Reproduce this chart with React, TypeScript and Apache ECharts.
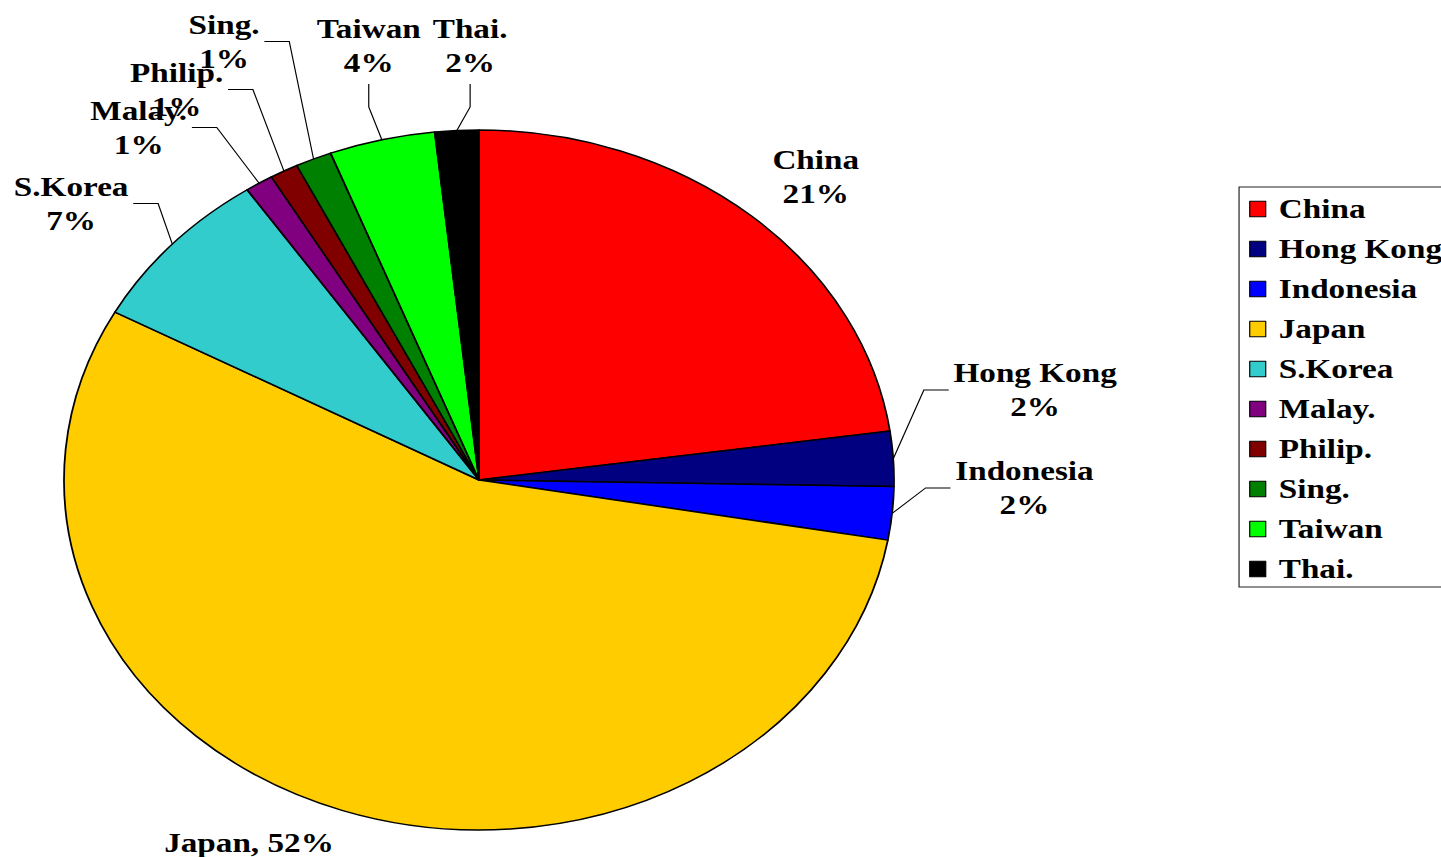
import React, { useEffect, useRef } from "react";
import * as echarts from "echarts";

// ---- data ----
const categories = ["China", "Hong Kong", "Indonesia", "Japan", "S.Korea", "Malay.", "Philip.", "Sing.", "Taiwan", "Thai."];
// share of total (%)
const shares = [21.4, 2.38, 2.3, 51.9, 7.14, 1.03, 1.04, 1.33, 3.87, 1.6];
const colors = ["#FF0000", "#000080", "#0000FF", "#FFCC00", "#33CCCC", "#800080", "#800000", "#008000", "#00FF00", "#000000"];
const singleLineLabels = ["Japan"];

// ---- layout (internal, unstretched px) ----
const SX = 1.1857; // horizontal stretch of the original picture
const CX = 404;
const CY = 480;
const R = 350;
const FONT = "'Liberation Serif', 'Times New Roman', serif";
// label centre and side where the leader line attaches
const labelAnchors: [number, number, string][] = [
  [688, 177, "none"],
  [873, 390, "left"],
  [864, 488, "left"],
  [210, 843, "none"],
  [60, 203.5, "right"],
  [117, 127.5, "right"],
  [149, 89.5, "right"],
  [189, 41.5, "right"],
  [311, 46, "bottom"],
  [396.5, 46, "bottom"],
];

function edgePoint(i: number): number[] {
  const total = shares.reduce((a, b) => a + b, 0);
  let before = 0;
  for (let k = 0; k < i; k++) before += shares[k];
  const mid = ((before + shares[i] / 2) / total) * Math.PI * 2;
  return [CX + R * Math.sin(mid), CY - R * Math.cos(mid)];
}

export default function App() {
  const ref = useRef<HTMLDivElement>(null);
  useEffect(() => {
    if (!ref.current) return;
    const chart = echarts.init(ref.current, null, { renderer: "svg" });
    chart.setOption({
      animation: false,
      backgroundColor: "#ffffff",
      legend: {
        orient: "vertical",
        left: 1045,
        top: 187,
        padding: [8, 30, 4, 8.5],
        borderColor: "#222",
        borderWidth: 1,
        itemWidth: 13.5,
        itemHeight: 15.5,
        itemGap: 12,
        icon: "rect",
        selectedMode: false,
        itemStyle: { borderColor: "#000", borderWidth: 1 },
        textStyle: {
          fontFamily: FONT,
          fontWeight: "bold",
          fontSize: 28,
          color: "#000",
          padding: [0, 0, 0, 6],
        },
        data: categories,
      },
      series: [
        {
          type: "pie",
          center: [CX, CY],
          radius: R,
          startAngle: 90,
          clockwise: true,
          avoidLabelOverlap: false,
          emphasis: { disabled: true },
          itemStyle: { borderColor: "#000", borderWidth: 1.5 },
          label: {
            show: true,
            position: "outside",
            color: "#000",
            fontFamily: FONT,
            fontWeight: "bold",
            fontSize: 28,
            lineHeight: 34,
            align: "center",
            formatter: (p: any) => {
              const pct = Math.round(p.value) + "%";
              return singleLineLabels.includes(p.name) ? `${p.name}, ${pct}` : `${p.name}\n${pct}`;
            },
          },
          labelLine: {
            show: true,
            length: 10,
            length2: 10,
            lineStyle: { color: "#000", width: 1 },
          },
          labelLayout: (p: any) => {
            const i = p.dataIndex;
            const [x, y, side] = labelAnchors[i];
            const w = p.labelRect.width;
            const h = p.labelRect.height;
            const res: any = { x, y, align: "center", verticalAlign: "middle" };
            if (side !== "none") {
              const e = edgePoint(i);
              let end: number[];
              let bend: number[];
              if (side === "bottom") {
                end = [x, y + h / 2 + 4];
                bend = [x, end[1] + 23];
              } else if (side === "right") {
                end = [x + w / 2 + 4, y];
                bend = [end[0] + 21, y];
              } else {
                end = [x - w / 2 - 4, y];
                bend = [end[0] - 21, y];
              }
              res.labelLinePoints = [e, bend, end];
            }
            return res;
          },
          data: categories.map((name, i) => ({
            name,
            value: shares[i],
            itemStyle: { color: colors[i] },
            labelLine: { show: labelAnchors[i][2] !== "none" },
          })),
        },
      ],
    });
    return () => chart.dispose();
  }, []);

  return (
    <div
      style={{
        position: "fixed",
        left: 0,
        top: 0,
        width: 1441,
        height: 857,
        overflow: "hidden",
        background: "#fff",
      }}
    >
      <div
        ref={ref}
        style={{
          width: 1300,
          height: 857,
          transform: `scaleX(${SX})`,
          transformOrigin: "0 0",
        }}
      />
    </div>
  );
}
